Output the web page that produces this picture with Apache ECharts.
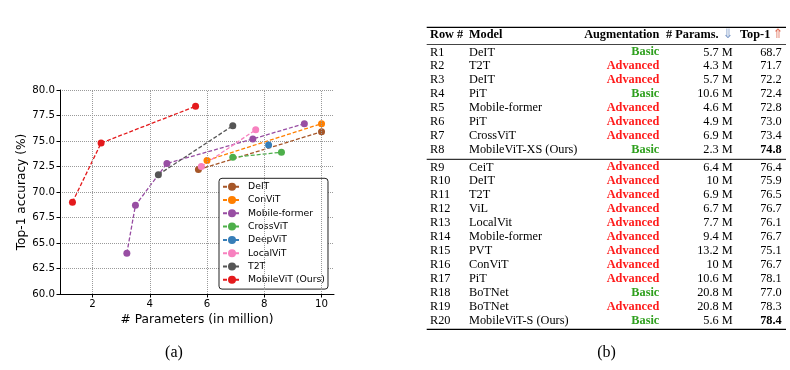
<!DOCTYPE html>
<html>
<head>
<meta charset="utf-8">
<script src="https://cdn.jsdelivr.net/npm/echarts@6/dist/echarts.min.js"></script>
<style>
html,body{margin:0;padding:0;background:#fff;}
#main{width:790px;height:370px;}
</style>
</head>
<body>
<div id="main"></div>
<script>
// ---- Chart (a) data ----
const seriesNames = ['DeIT','ConViT','Mobile-former','CrossViT','DeepViT','LocalViT','T2T','MobileViT (Ours)'];
const deit = [[5.7,72.2],[10,75.9]];
const convit = [[6.0,73.1],[10,76.7]];
const mobileFormer = [[3.2,64.0],[3.5,68.7],[4.6,72.8],[7.6,75.2],[9.4,76.7]];
const crossvit = [[6.9,73.4],[8.6,73.9]];
const deepvit = [[8.15,74.6]];
const localvit = [[5.8,72.5],[7.7,76.1]];
const t2t = [[4.3,71.7],[6.9,76.5]];
const mobilevit = [[1.3,69.0],[2.3,74.8],[5.6,78.4]];
const xTicks = [2,4,6,8,10];
const seriesColors = ['#a65628','#ff7f00','#984ea3','#4daf4a','#377eb8','#f781bf','#555555','#e41a1c'];

// ---- Table (b) data ----
const rowIds = ['R1','R2','R3','R4','R5','R6','R7','R8','R9','R10','R11','R12','R13','R14','R15','R16','R17','R18','R19','R20'];
const models = ['DeIT','T2T','DeIT','PiT','Mobile-former','PiT','CrossViT','MobileViT-XS (Ours)','CeiT','DeIT','T2T','ViL','LocalVit','Mobile-former','PVT','ConViT','PiT','BoTNet','BoTNet','MobileViT-S (Ours)'];
const augment = ['Basic','Advanced','Advanced','Basic','Advanced','Advanced','Advanced','Basic','Advanced','Advanced','Advanced','Advanced','Advanced','Advanced','Advanced','Advanced','Advanced','Basic','Advanced','Basic'];
const paramsM = ['5.7 M','4.3 M','5.7 M','10.6 M','4.6 M','4.9 M','6.9 M','2.3 M','6.4 M','10 M','6.9 M','6.7 M','7.7 M','9.4 M','13.2 M','10 M','10.6 M','20.8 M','20.8 M','5.6 M'];
const top1 = ['68.7','71.7','72.2','72.4','72.8','73.0','73.4','74.8','76.4','75.9','76.5','76.7','76.1','76.7','75.1','76.7','78.1','77.0','78.3','78.4'];
const boldRows = ['R8','R20'];
const headers = ['Row #','Model','Augmentation','# Params.','Top-1'];

const chart = echarts.init(document.getElementById('main'), null, {renderer:'canvas'});
const sansFont = 'DejaVu Sans';
const serif = '"Liberation Serif", "Times New Roman", serif';
const allData = [deit, convit, mobileFormer, crossvit, deepvit, localvit, t2t, mobilevit];

const series = [{
  name: '_grid', type: 'line', data: [], silent: true,
  markLine: {
    silent: true, symbol: 'none', animation: false,
    label: {show: false},
    lineStyle: {type: 'dotted', color: '#9a9a9a', width: 1},
    data: xTicks.map(v => ({xAxis: v}))
  }
}];
seriesNames.forEach((n, i) => {
  series.push({
    name: n, type: 'line', data: allData[i],
    symbol: 'circle', symbolSize: 7,
    itemStyle: {color: seriesColors[i]},
    lineStyle: {color: seriesColors[i], width: 1.3, type: [4, 2]},
    animation: false
  });
});

// Table graphics
const g = [];
const fs = 12.3;
const rowY = i => i < 8 ? 52.3 + i * 13.95 : 167.3 + (i - 8) * 13.95;
const txt = (text, x, y, align, opts) => g.push({
  type: 'text', x: x, y: y, silent: true,
  style: Object.assign({text: text, font: 'normal ' + fs + 'px ' + serif, fill: '#000', align: align, verticalAlign: 'middle'}, opts || {})
});
const bold = 'bold ' + fs + 'px ' + serif;
const hy = 34.7;
txt(headers[0], 430, hy, 'left', {font: bold});
txt(headers[1], 469, hy, 'left', {font: bold});
txt(headers[2], 659.3, hy, 'right', {font: bold});
txt(headers[3], 666, hy, 'left', {font: bold});
txt('\u21D3', 722.5, hy, 'left', {font: 'normal 13px "DejaVu Sans"', fill: '#7f9bc8'});
txt(headers[4], 740, hy, 'left', {font: bold});
txt('\u21D1', 772.5, hy, 'left', {font: 'normal 13px "DejaVu Sans"', fill: '#e0705a'});
rowIds.forEach((r, i) => {
  const y = rowY(i);
  txt(r, 430, y, 'left');
  txt(models[i], 469, y, 'left');
  txt(augment[i], 659.3, y, 'right', {font: bold, fill: augment[i] === 'Basic' ? '#2fa01e' : '#ff1a1a'});
  txt(paramsM[i], 732.7, y, 'right');
  txt(top1[i], 781.7, y, 'right', boldRows.indexOf(r) >= 0 ? {font: bold} : {});
});
const rule = (y, w, c) => g.push({type: 'line', silent: true, shape: {x1: 426.7, y1: y, x2: 786, y2: y}, style: {stroke: c || '#000', lineWidth: w}});
rule(27.3, 1.3);
rule(44.5, 1.0, '#444');
rule(159.3, 1.0);
rule(329.3, 1.3);
txt('(a)', 174, 352.7, 'center', {font: 'normal 16px ' + serif});
txt('(b)', 606.5, 352.7, 'center', {font: 'normal 16px ' + serif});

chart.setOption({
  animation: false,
  backgroundColor: '#fff',
  grid: {left: 60, top: 90, width: 274, height: 204, containLabel: false},
  xAxis: {
    type: 'value', min: 0.865, max: 10.435,
    name: '# Parameters (in million)', nameLocation: 'middle', nameGap: 18,
    nameTextStyle: {fontFamily: sansFont, fontSize: 12.2, color: '#000'},
    axisLine: {show: true, lineStyle: {color: '#000', width: 1}},
    axisTick: {show: true, length: 3.5, lineStyle: {color: '#000'}, customValues: xTicks},
    axisLabel: {customValues: xTicks, fontFamily: sansFont, fontSize: 10.2, color: '#000', margin: 5},
    splitLine: {show: false}
  },
  yAxis: {
    type: 'value', min: 60, max: 80, interval: 2.5,
    name: 'Top-1 accuracy (%)', nameLocation: 'middle', nameGap: 32,
    nameTextStyle: {fontFamily: sansFont, fontSize: 12.2, color: '#000'},
    axisLine: {show: true, lineStyle: {color: '#000', width: 1}},
    axisTick: {show: true, length: 3.5, lineStyle: {color: '#000'}},
    axisLabel: {fontFamily: sansFont, fontSize: 10.2, color: '#000', margin: 5, formatter: v => v.toFixed(1)},
    splitLine: {show: true, lineStyle: {type: 'dotted', color: '#9a9a9a', width: 1}}
  },
  legend: {
    data: seriesNames, orient: 'vertical', left: 219, top: 178.3,
    itemWidth: 18, itemHeight: 10, itemGap: 3.3,
    padding: [3.4, 3, 4.3, 3],
    backgroundColor: '#fff', borderColor: '#222', borderWidth: 1, borderRadius: 3,
    textStyle: {fontFamily: sansFont, fontSize: 9.3, color: '#000', lineHeight: 10, padding: [0, 0, 0, 2]}
  },
  series: series,
  graphic: g
});
</script>
</body>
</html>
